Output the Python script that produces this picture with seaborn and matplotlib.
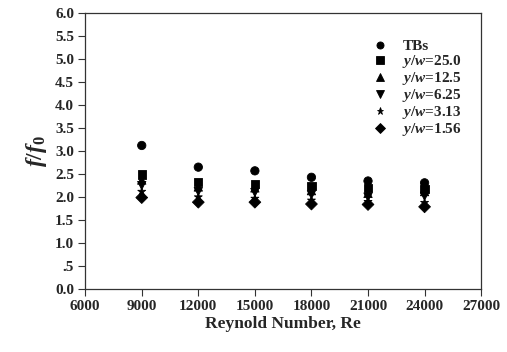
import pandas as pd
import numpy as np
import matplotlib
matplotlib.use('Agg')
import matplotlib.pyplot as plt
import seaborn as sns

re_vals = [9000, 12000, 15000, 18000, 21000, 24000]
tbs = [3.12, 2.65, 2.57, 2.43, 2.35, 2.31]
yw_250 = [2.49, 2.33, 2.29, 2.24, 2.20, 2.18]
yw_125 = [2.37, 2.22, 2.20, 2.14, 2.08, 2.12]
yw_625 = [2.25, 2.12, 2.10, 2.05, 2.00, 2.02]
yw_313 = [2.12, 2.00, 1.97, 1.93, 1.90, 1.88]
yw_156 = [1.99, 1.89, 1.89, 1.85, 1.84, 1.79]

labels = ['TBs', '$y/w$=25.0', '$y/w$=12.5', '$y/w$=6.25', '$y/w$=3.13', '$y/w$=1.56']
series = [tbs, yw_250, yw_125, yw_625, yw_313, yw_156]
marker_list = ['o', 's', '^', 'v', '*', 'D']

xticks = [6000, 9000, 12000, 15000, 18000, 21000, 24000, 27000]
yticks = [0.0, 0.5, 1.0, 1.5, 2.0, 2.5, 3.0, 3.5, 4.0, 4.5, 5.0, 5.5, 6.0]
ytick_labels = ['0.0', '.5', '1.0', '1.5', '2.0', '2.5', '3.0', '3.5', '4.0', '4.5', '5.0', '5.5', '6.0']

rows = []
for lab, vals in zip(labels, series):
    for x, y in zip(re_vals, vals):
        rows.append({'Re': x, 'ff0': y, 'case': lab})
df = pd.DataFrame(rows)

sns.set_style('ticks')
plt.rcParams['font.family'] = ['Liberation Serif', 'DejaVu Serif']
plt.rcParams['font.weight'] = 'bold'
plt.rcParams['mathtext.fontset'] = 'custom'
plt.rcParams['mathtext.it'] = 'Liberation Serif:italic:bold'
plt.rcParams['mathtext.rm'] = 'Liberation Serif:bold'
plt.rcParams['mathtext.bf'] = 'Liberation Serif:bold'

fig = plt.figure(figsize=(5.07, 3.52), dpi=100)
ax = fig.add_axes([0.168, 0.178, 0.781, 0.786])

sns.scatterplot(data=df, x='Re', y='ff0', style='case', style_order=labels,
                markers=dict(zip(labels, marker_list)), color='black',
                s=36, edgecolor='black', linewidth=0.6, ax=ax, legend=True)

ax.set_xlim(6000, 27000)
ax.set_ylim(0, 6)
ax.set_xticks(xticks)
ax.set_xticklabels([str(t) for t in xticks], fontsize=11, fontweight='bold')
ax.set_yticks(yticks)
ax.set_yticklabels(ytick_labels, fontsize=11, fontweight='bold')
ax.tick_params(direction='out', length=5, width=0.8, color='#333333', pad=3)
for sp in ax.spines.values():
    sp.set_color('#333333')
    sp.set_linewidth(0.9)

ax.set_xlabel('Reynold Number, Re', fontsize=12.5, fontweight='bold', labelpad=2)
ax.set_ylabel('$f/f_0$', fontsize=17, labelpad=4)

handles, labs = ax.get_legend_handles_labels()
ax.legend(handles, labs, loc='upper left', bbox_to_anchor=(0.703, 0.93), frameon=False,
          labelspacing=0.0, handletextpad=0.85, borderpad=0,
          handlelength=1.2, markerscale=0.85, prop={'weight': 'bold', 'size': 11})

fig.savefig('out.png', dpi=100)
